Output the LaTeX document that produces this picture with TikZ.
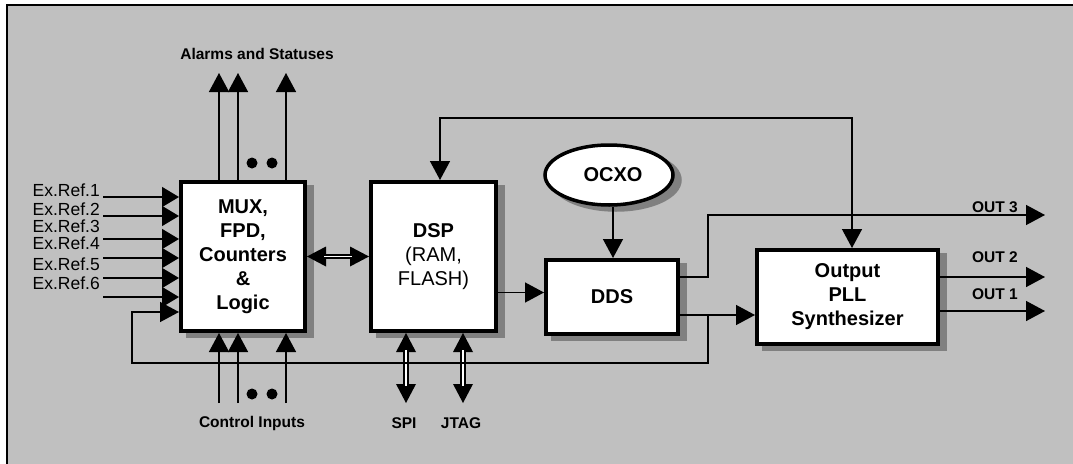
\documentclass[tikz,border=0pt]{standalone}
\usepackage{fontspec}
\setmainfont{Liberation Sans}
\usetikzlibrary{positioning,arrows.meta,shadows,shapes.geometric}
\definecolor{panelgray}{HTML}{C0C0C0}
\definecolor{shadegray}{HTML}{808080}
\tikzset{block/.style={draw,fill=white,line width=4pt,align=center,inner sep=0pt,
           font=\bfseries\fontsize{20}{24}\selectfont,
           copy shadow={shadow xshift=7pt,shadow yshift=-5pt,draw=shadegray,fill=shadegray}},
	 lbl/.style={font=\bfseries\fontsize{15.5}{18}\selectfont,inner sep=0pt},
	 reflbl/.style={font=\fontsize{17.5}{20}\selectfont,inner sep=0pt,anchor=east},
	 arr/.style={line width=1.4pt,->},
	 refarr/.style={line width=1.4pt,-{Triangle[length=17pt,width=20pt]}},
	 dbl/.style={line width=5.6pt,
	   {Triangle[length=19pt,width=20pt,line width=0pt]}-{Triangle[length=19pt,width=20pt,line width=0pt]},
	   postaction={draw=white,line width=1.8pt,-,shorten >=17pt,shorten <=17pt}},
	 dot/.style={circle,fill=black,inner sep=0pt,minimum size=11pt}
	 }

\begin{document}
\begin{tikzpicture}[x=1pt,y=-1pt,>={Triangle[length=19pt,width=20pt]}]
	\useasboundingbox (0,0) rectangle (1073,463);
	\fill[white] (0,0) rectangle (1073,463);
	\draw[line width=2pt,fill=panelgray] (7,5) rectangle (1090,480);
	% blocks
	\node[block,minimum width=124pt,minimum height=149pt] (mux) at (243,256.5) {MUX,\\FPD,\\Counters\\\&\\Logic};
	\node[block,minimum width=125pt,minimum height=149pt] (dsp) at (433.5,256.5) {DSP\\\mdseries(RAM,\\\mdseries FLASH)};
	\node[block,minimum width=132pt,minimum height=74pt] (dds) at (612,297) {DDS};
	\node[block,minimum width=181pt,minimum height=94pt] (pll) at (847.5,297) {Output\\PLL\\Synthesizer};
	\node[block,ellipse,line width=3.5pt,minimum width=128pt,minimum height=60pt] (ocxo) at (609,175) {\hspace*{8pt}OCXO};
	% labels
	\node[lbl] (alarms) at (257,54) {Alarms and Statuses};
	\node[lbl] (ctrl) at (252,423) {Control Inputs};
	\node[lbl] (spi) at (404,423) {SPI};
	\node[lbl] (jtag) at (461,423) {JTAG};
	\node[lbl,anchor=south east] (out3) at (1018,213) {OUT 3};
	\node[lbl,anchor=south east] (out2) at (1018,263) {OUT 2};
	\node[lbl,anchor=south east] (out1) at (1018,300) {OUT 1};
	\foreach \n/\y in {1/190,2/209,3/226,4/243,5/264,6/283}
	  \node[reflbl] (ref\n) at (100,\y) {Ex.Ref.\n};
	% reference inputs
	\foreach \y [count=\i] in {197,216,239,258,278,297} {
	  \coordinate (r\i) at (103,\y);
	  \draw[refarr] (r\i) -- (r\i -| mux.west);
	}
	% alarms and control inputs
	\foreach \x [count=\i] in {219,238,286} {
	  \coordinate (al\i) at (\x,73);
	  \coordinate (ci\i) at (\x,403);
	  \draw[arr] (al\i |- mux.north) -- (al\i);
	  \draw[arr] (ci\i) -- (ci\i |- mux.south);
	}
	\node[dot] (ad1) at (252,163) {};
	\node[dot] (ad2) at (272,163) {};
	\node[dot] (cd1) at (252,394) {};
	\node[dot] (cd2) at (272,394) {};
	% buses
	\coordinate (spiend) at (406,403);
	\coordinate (jtagend) at (463,403);
	\draw[dbl] (mux.east) -- (dsp.west);
	\draw[dbl] (spiend |- dsp.south) -- (spiend);
	\draw[dbl] (jtagend |- dsp.south) -- (jtagend);
	% signal paths
	\coordinate (top) at (852,118);
	\coordinate (tap) at (708,315);
	\coordinate (bend) at (708,215);
	\coordinate (loop) at (132,363);
	\coordinate (r7) at (132,312);
	\coordinate (o3) at (1045,215);
	\coordinate (o2) at (1045,277);
	\coordinate (o1) at (1045,311);
	\draw[arr,<->] ([xshift=6.5pt]dsp.north) |- (top) -- (top |- pll.north);
	\draw[arr] ([xshift=4pt]ocxo.south) -- ([xshift=4pt]ocxo.south |- dds.north);
	\draw[arr] ([yshift=-36pt]dsp.east) -- ([yshift=-36pt]dsp.east -| dds.west);
	\draw[arr] ([yshift=20pt]dds.east) -| (bend) -- (o3);
	\draw[arr] (dds.east |- tap) -- (pll.west |- tap);
	\draw[arr] (tap) |- (loop) |- (r7 -| mux.west);
	\draw[arr] (pll.east |- o2) -- (o2);
	\draw[arr] (pll.east |- o1) -- (o1);
\end{tikzpicture}
\end{document}
